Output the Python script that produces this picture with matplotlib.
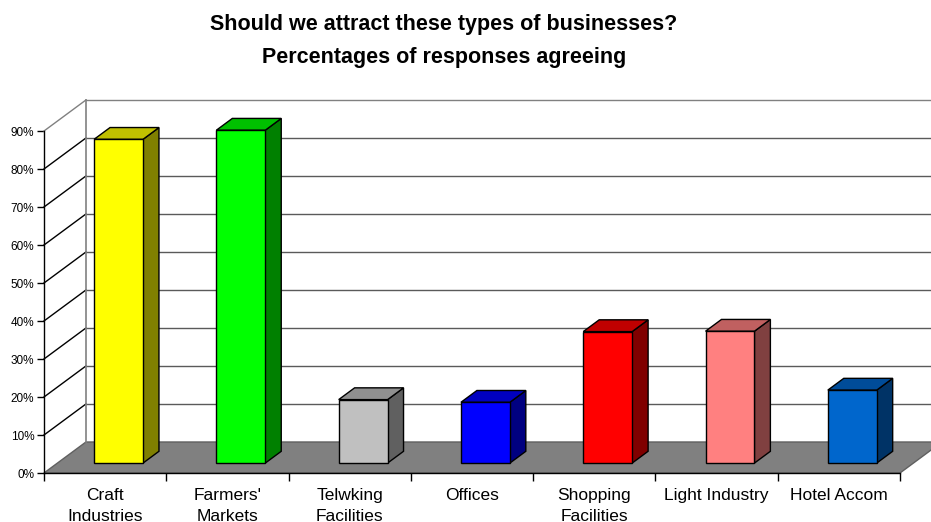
import numpy as np
import matplotlib.pyplot as plt
from matplotlib.patches import Polygon

plt.rcParams['font.family'] = ['Liberation Sans', 'DejaVu Sans']

# survey results
categories = ["Craft\nIndustries", "Farmers'\nMarkets", "Telwking\nFacilities", "Offices",
              "Shopping\nFacilities", "Light Industry", "Hotel Accom"]
agree_pct = [85.2, 87.6, 16.7, 16.0, 34.6, 34.7, 19.2]
front_cols = ["#FFFF00", "#00FF00", "#C0C0C0", "#0000FF", "#FF0000", "#FF8080", "#0066CC"]
top_cols = ["#C0C000", "#00C000", "#909090", "#0000C0", "#C00000", "#C06060", "#004C99"]
side_cols = ["#808000", "#008000", "#606060", "#000080", "#800000", "#804040", "#003366"]
y_ticks = list(range(0, 100, 10))

# fake 3d: depth offset of the back wall, in data units
DX = 0.343
DY = 8.16
f1, f2 = 0.32, 0.70   # bar front / back depth fraction
w = 0.4
n = len(categories)

fig = plt.figure(figsize=(9.31, 5.22), dpi=100)
ax = fig.add_axes([44/931, 49/522, 856/931, 342/522])
ax.set_xlim(0, n)
ax.set_ylim(0, 90)
ax.patch.set_visible(False)

# floor
floor = Polygon([(0, 0), (n, 0), (n + DX, DY), (DX, DY)], closed=True,
                facecolor="#808080", edgecolor="#606060", lw=1, clip_on=False, zorder=1)
ax.add_patch(floor)

# walls and gridlines
for v in y_ticks[1:]:
    c = "#808080" if v == 90 else "black"
    ax.plot([0, DX], [v, v + DY], color=c, lw=1, clip_on=False, zorder=2)
    c = "#808080" if v == 90 else "#5a5a5a"
    ax.plot([DX, n + DX], [v + DY, v + DY], color=c, lw=1, clip_on=False, zorder=2)
ax.plot([DX, DX], [DY, 90 + DY], color="#808080", lw=1.2, clip_on=False, zorder=2)

# bars
for i, v in enumerate(agree_pct):
    x0 = i + 0.5 - w / 2 + f1 * DX
    x1 = x0 + w
    b = f1 * DY
    t = b + v
    d = (f2 - f1) * DX
    e = (f2 - f1) * DY
    front = Polygon([(x0, b), (x1, b), (x1, t), (x0, t)], closed=True,
                    facecolor=front_cols[i], edgecolor="black", lw=1, clip_on=False, zorder=5)
    top = Polygon([(x0, t), (x1, t), (x1 + d, t + e), (x0 + d, t + e)], closed=True,
                  facecolor=top_cols[i], edgecolor="black", lw=1, clip_on=False, zorder=5)
    side = Polygon([(x1, b), (x1, t), (x1 + d, t + e), (x1 + d, b + e)], closed=True,
                   facecolor=side_cols[i], edgecolor="black", lw=1, clip_on=False, zorder=5)
    for p in (side, top, front):
        ax.add_patch(p)

# axes
for s in ["top", "right"]:
    ax.spines[s].set_visible(False)
for s in ["left", "bottom"]:
    ax.spines[s].set_color("black")
    ax.spines[s].set_linewidth(1)
    ax.spines[s].set_zorder(6)

ax.set_yticks(y_ticks)
ax.set_yticklabels([f"{v}%" for v in y_ticks], fontsize=8.5)
ax.tick_params(axis="y", direction="out", length=5, width=1, pad=2)

ax.set_xticks(np.arange(n + 1))
ax.set_xticklabels([])
ax.set_xticks(np.arange(n) + 0.5, minor=True)
ax.set_xticklabels(categories, minor=True, fontsize=12.5, linespacing=1.45)
ax.tick_params(axis="x", which="major", direction="out", length=6, width=1)
ax.tick_params(axis="x", which="minor", length=0, pad=11)

fig.text(0.477, 0.973, "Should we attract these types of businesses?\nPercentages of responses agreeing",
         ha="center", va="top", fontsize=15.5, fontweight="bold", linespacing=1.75)

fig.savefig("out.png", dpi=100)
